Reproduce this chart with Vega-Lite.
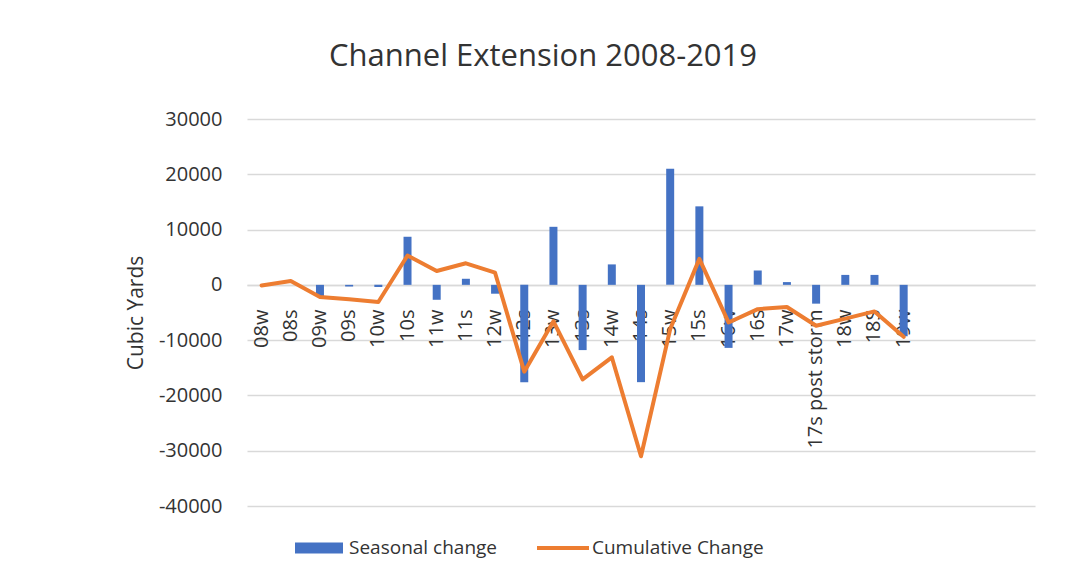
{
  "$schema": "https://vega.github.io/schema/vega-lite/v6.json",
  "autosize": {"type": "none"},
  "width": 788,
  "height": 387,
  "padding": {"left": 247, "top": 119, "right": 30, "bottom": 76},
  "background": "white",
  "config": {
    "font": "Open Sans",
    "view": {"stroke": null}
  },
  "title": {
    "text": "Channel Extension 2008-2019",
    "fontSize": 31,
    "fontWeight": "normal",
    "color": "#333333",
    "anchor": "middle",
    "dx": -98,
    "offset": 36
  },
  "data": {
    "values": [
      {"cat": "08w", "seasonal": 0, "cumulative": -100},
      {"cat": "08s", "seasonal": 0, "cumulative": 700},
      {"cat": "09w", "seasonal": -2100, "cumulative": -2200},
      {"cat": "09s", "seasonal": -300, "cumulative": -2600},
      {"cat": "10w", "seasonal": -400, "cumulative": -3100},
      {"cat": "10s", "seasonal": 8700, "cumulative": 5300},
      {"cat": "11w", "seasonal": -2700, "cumulative": 2500},
      {"cat": "11s", "seasonal": 1100, "cumulative": 3900},
      {"cat": "12w", "seasonal": -1600, "cumulative": 2200},
      {"cat": "12s", "seasonal": -17600, "cumulative": -15700},
      {"cat": "13w", "seasonal": 10500, "cumulative": -6600},
      {"cat": "13s", "seasonal": -11800, "cumulative": -17100},
      {"cat": "14w", "seasonal": 3700, "cumulative": -13100},
      {"cat": "14s", "seasonal": -17600, "cumulative": -31000},
      {"cat": "15w", "seasonal": 21000, "cumulative": -8000},
      {"cat": "15s", "seasonal": 14200, "cumulative": 4700},
      {"cat": "16w", "seasonal": -11400, "cumulative": -6800},
      {"cat": "16s", "seasonal": 2600, "cumulative": -4400},
      {"cat": "17w", "seasonal": 500, "cumulative": -4000},
      {"cat": "17s post storm", "seasonal": -3400, "cumulative": -7400},
      {"cat": "18w", "seasonal": 1800, "cumulative": -6100},
      {"cat": "18S", "seasonal": 1800, "cumulative": -4800},
      {"cat": "19w", "seasonal": -9300, "cumulative": -9400}
    ]
  },
  "encoding": {
    "x": {
      "field": "cat",
      "type": "nominal",
      "sort": null,
      "scale": {
        "domain": ["08w","08s","09w","09s","10w","10s","11w","11s","12w","12s","13w","13s","14w","14s","15w","15s","16w","16s","17w","17s post storm","18w","18S","19w","_a","_b","_c","_d"],
        "paddingInner": 0.726,
        "paddingOuter": 0.363
      },
      "axis": {
        "title": null,
        "orient": "bottom",
        "offset": -221,
        "labelAngle": -90,
        "labelPadding": 24,
        "labelFontSize": 20,
        "labelColor": "#333333",
        "labelExpr": "indexof(datum.label, '_') == 0 ? '' : datum.label",
        "ticks": false,
        "domain": true,
        "domainColor": "#d9d9d9",
        "domainWidth": 1.5,
        "grid": false,
        "zindex": 0
      }
    }
  },
  "layer": [
    {
      "mark": {"type": "bar"},
      "encoding": {
        "y": {
          "field": "seasonal",
          "type": "quantitative",
          "scale": {"domain": [-40000, 30000], "nice": false, "zero": true},
          "axis": {
            "title": "Cubic Yards",
            "titleFontSize": 21,
            "titleFontWeight": "normal",
            "titleColor": "#333333",
            "titlePadding": 12,
            "values": [-40000, -30000, -20000, -10000, 0, 10000, 20000, 30000],
            "labelExpr": "'' + datum.value",
            "labelFontSize": 20,
            "labelColor": "#333333",
            "labelPadding": 25,
            "ticks": false,
            "domain": false,
            "grid": true,
            "gridColor": "#d9d9d9",
            "gridWidth": 1.5,
            "zindex": 0
          }
        },
        "color": {
          "datum": "Seasonal change",
          "scale": {"range": ["#4472C4"]},
          "legend": {
            "title": null,
            "orient": "none",
            "legendX": 48,
            "legendY": 405,
            "symbolType": "M-1,-0.23H1V0.23H-1Z",
            "symbolSize": 2304,
            "symbolStrokeWidth": 0,
            "labelFontSize": 19,
            "labelColor": "#333333",
            "labelOffset": 6,
            "labelLimit": 400
          }
        }
      }
    },
    {
      "mark": {"type": "line", "strokeWidth": 4, "strokeJoin": "round", "strokeCap": "round"},
      "encoding": {
        "y": {"field": "cumulative", "type": "quantitative"},
        "stroke": {
          "datum": "Cumulative Change",
          "scale": {"range": ["#ED7D31"]},
          "legend": {
            "title": null,
            "orient": "none",
            "legendX": 288,
            "legendY": 401,
            "symbolType": "stroke",
            "symbolSize": 2704,
            "symbolStrokeWidth": 4,
            "labelFontSize": 19,
            "labelColor": "#333333",
            "labelOffset": 1,
            "labelLimit": 400
          }
        }
      }
    }
  ]
}
